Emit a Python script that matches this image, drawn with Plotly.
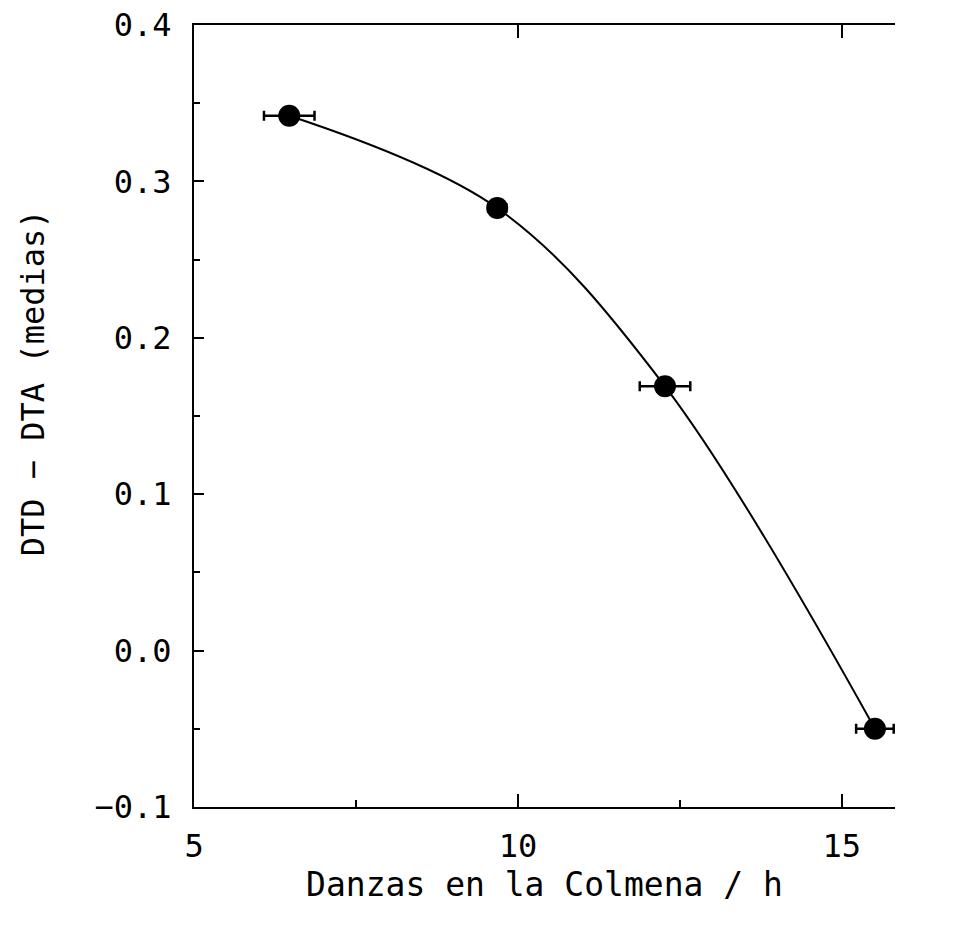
import plotly.graph_objects as go

# Data
danzas = [6.47, 9.68, 12.27, 15.51]          # Danzas en la Colmena / h
diferencia = [0.342, 0.283, 0.169, -0.050]   # DTD - DTA (medias)
error_x = [0.39, 0.14, 0.39, 0.29]

x_ticks = [5, 10, 15]
y_ticks = [-0.1, 0.0, 0.1, 0.2, 0.3, 0.4]

FONT = "DejaVu Sans Mono"

fig = go.Figure()

fig.add_trace(go.Scatter(
    x=danzas, y=diferencia,
    mode="lines",
    line=dict(color="black", width=2, shape="spline", smoothing=1.0),
    showlegend=False, hoverinfo="skip", cliponaxis=False,
))
fig.add_trace(go.Scatter(
    x=danzas, y=diferencia,
    mode="markers",
    marker=dict(color="black", size=22, symbol="circle"),
    error_x=dict(type="data", array=error_x, visible=True,
                 color="black", thickness=2.5, width=5),
    showlegend=False, cliponaxis=False,
))
# invisible trace on top axis so it is drawn
fig.add_trace(go.Scatter(
    x=[danzas[0]], y=[diferencia[0]], xaxis="x2",
    mode="markers", marker=dict(opacity=0), showlegend=False, hoverinfo="skip",
))

fig.update_layout(
    width=965, height=939,
    margin=dict(l=194, r=70, t=25, b=132, autoexpand=False),
    paper_bgcolor="white", plot_bgcolor="white",
    font=dict(family=FONT, color="black", size=32),
    xaxis=dict(
        range=[5, 15.82], automargin=False,
        tickvals=x_ticks, ticktext=[str(v) for v in x_ticks],
        ticks="inside", ticklen=13, tickwidth=2, tickcolor="black",
        minor=dict(dtick=2.5, tick0=5, ticks="inside", ticklen=7,
                   tickwidth=1.5, tickcolor="black"),
        showline=True, linecolor="black", linewidth=2,
        showgrid=False, zeroline=False,
        tickfont=dict(family=FONT, size=32),
        ticklabelstandoff=10,
        title=dict(text="Danzas en la Colmena / h",
                   font=dict(family=FONT, size=33), standoff=6),
    ),
    xaxis2=dict(
        overlaying="x", matches="x", side="top", automargin=False,
        tickvals=x_ticks, showticklabels=False,
        ticks="inside", ticklen=13, tickwidth=2, tickcolor="black",
        showline=True, linecolor="black", linewidth=2,
        showgrid=False, zeroline=False,
    ),
    yaxis=dict(
        range=[-0.1, 0.4], automargin=False,
        tickvals=y_ticks, tickformat=".1f",
        ticks="inside", ticklen=10, tickwidth=2, tickcolor="black",
        minor=dict(dtick=0.05, tick0=0, ticks="inside", ticklen=6,
                   tickwidth=1.5, tickcolor="black"),
        showline=True, linecolor="black", linewidth=2,
        showgrid=False, zeroline=False,
        tickfont=dict(family=FONT, size=32),
        ticklabelstandoff=14,
    ),
    annotations=[dict(
        text="DTD − DTA (medias)", xref="paper", yref="paper",
        x=-0.2295, y=0.542, xanchor="center", yanchor="middle",
        textangle=-90, showarrow=False,
        font=dict(family=FONT, size=32, color="black"),
    )],
)

fig.write_html("out.html")
